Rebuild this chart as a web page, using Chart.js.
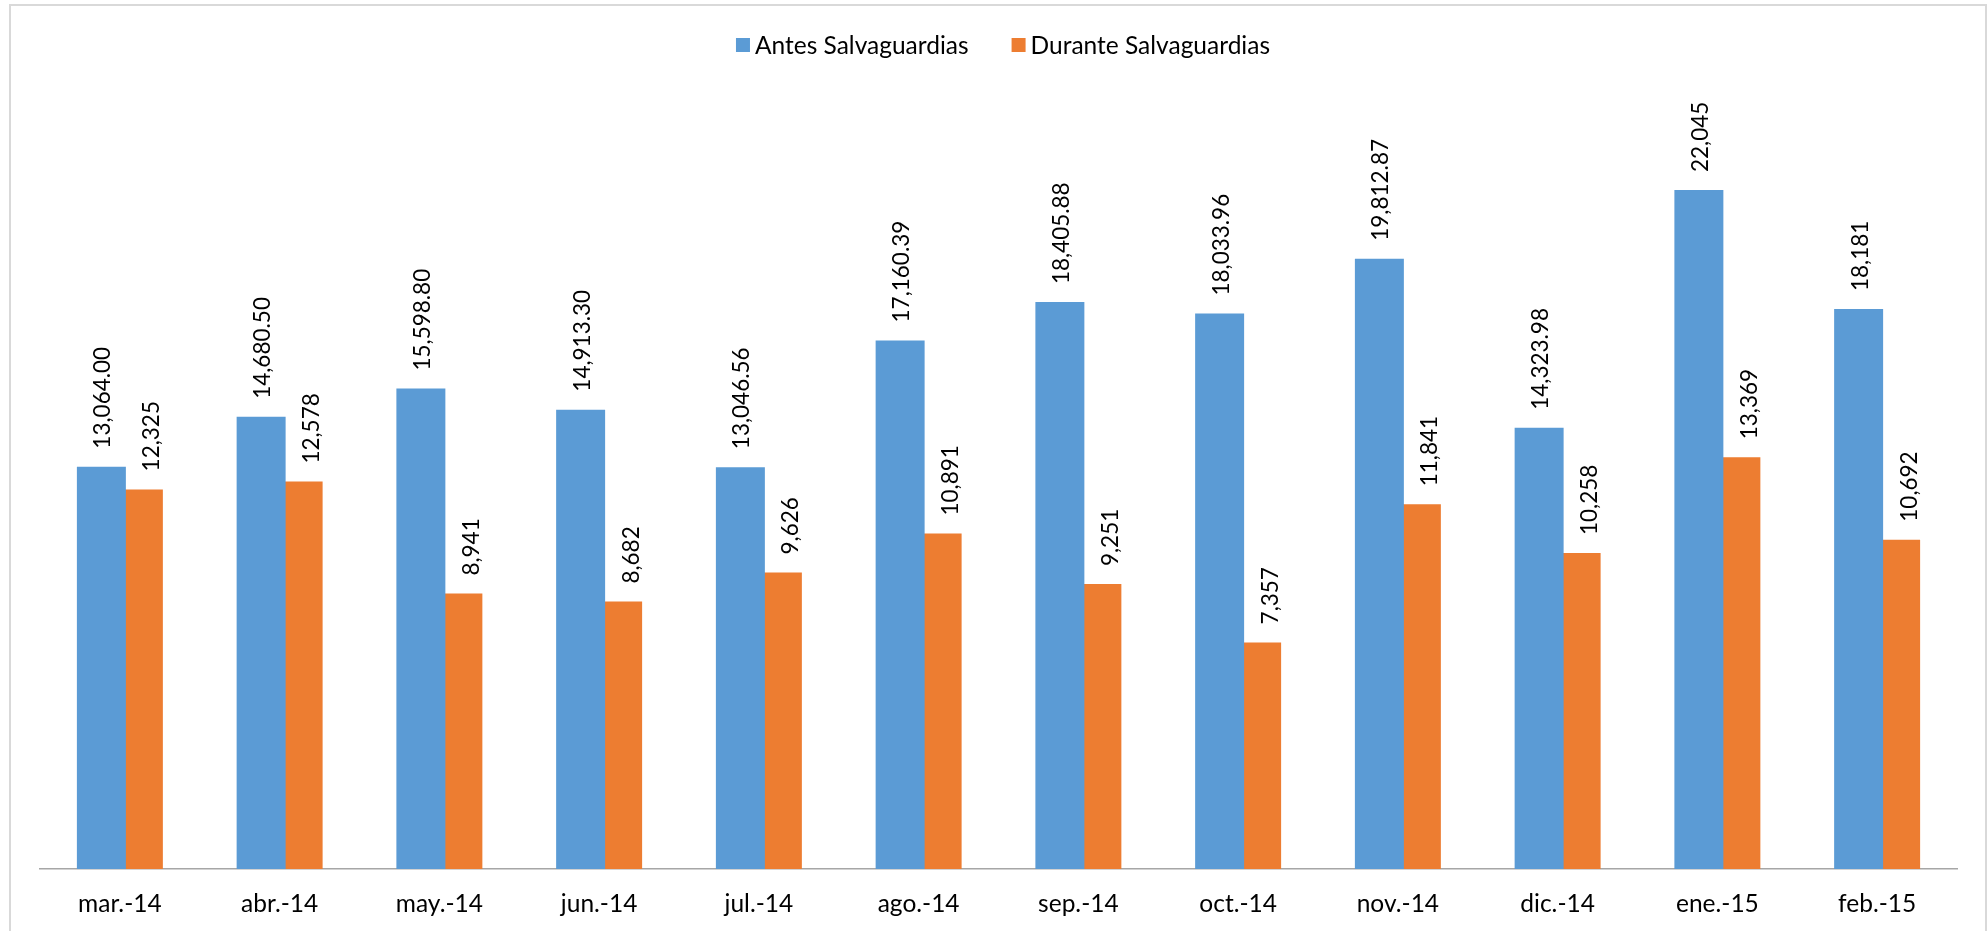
<!DOCTYPE html>
<html lang="es">
<head>
<meta charset="utf-8">
<title>Antes y durante salvaguardias</title>
<script src="https://cdn.jsdelivr.net/npm/chart.js@4.4.1/dist/chart.umd.min.js"></script>
<style>
  html, body { margin: 0; padding: 0; background: #ffffff; overflow: hidden; }
  #wrap { position: relative; width: 1988px; height: 931px; }
  #frame {
    position: absolute; left: 9px; top: 4px; width: 1978px; height: 1000px;
    box-sizing: border-box; border: 2px solid #d9d9d9; pointer-events: none;
  }
  canvas { position: absolute; left: 0; top: 0; }
</style>
</head>
<body>
<div id="wrap">
  <canvas id="chart" width="1988" height="931"></canvas>
  <div id="frame"></div>
</div>
<script>
// Months of the period
const categories = ['mar.-14', 'abr.-14', 'may.-14', 'jun.-14', 'jul.-14', 'ago.-14',
                    'sep.-14', 'oct.-14', 'nov.-14', 'dic.-14', 'ene.-15', 'feb.-15'];

// Series values
const antesSalvaguardias = [13064.00, 14680.50, 15598.80, 14913.30, 13046.56, 17160.39,
                            18405.88, 18033.96, 19812.87, 14323.98, 22045, 18181];
const duranteSalvaguardias = [12325, 12578, 8941, 8682, 9626, 10891,
                              9251, 7357, 11841, 10258, 13369, 10692];

// Decimal places shown in each value label
const antesDecimals = [2, 2, 2, 2, 2, 2, 2, 2, 2, 2, 0, 0];
const duranteDecimals = [0, 0, 0, 0, 0, 0, 0, 0, 0, 0, 0, 0];

const seriesNames = ['Antes Salvaguardias', 'Durante Salvaguardias'];
const seriesColors = ['#5B9BD5', '#ED7D31'];

const FONT = 'Lato, "Open Sans", "Liberation Sans", sans-serif';

function fmt(v, d) {
  return v.toLocaleString('en-US', { minimumFractionDigits: d, maximumFractionDigits: d });
}

// Vertical value labels above each bar
const valueLabels = {
  id: 'valueLabels',
  afterDatasetsDraw(chart) {
    const ctx = chart.ctx;
    const decimals = [antesDecimals, duranteDecimals];
    const shift = [9, 21];
    ctx.save();
    ctx.fillStyle = '#000000';
    ctx.font = '22.5px ' + FONT;
    ctx.textAlign = 'left';
    ctx.textBaseline = 'alphabetic';
    chart.data.datasets.forEach((ds, i) => {
      const meta = chart.getDatasetMeta(i);
      meta.data.forEach((bar, j) => {
        ctx.save();
        ctx.translate(bar.x + shift[i], bar.y - 18);
        ctx.rotate(-Math.PI / 2);
        ctx.fillText(fmt(ds.data[j], decimals[i][j]), 0, 0);
        ctx.restore();
      });
    });
    ctx.restore();
  }
};

// Legend row across the top
const topLegend = {
  id: 'topLegend',
  afterDraw(chart) {
    const ctx = chart.ctx;
    ctx.save();
    ctx.font = '24.5px ' + FONT;
    ctx.textBaseline = 'alphabetic';
    ctx.textAlign = 'left';
    const box = 14, gapText = 5, gapItem = 43;
    const widths = seriesNames.map(n => ctx.measureText(n).width);
    const total = widths.reduce((a, w) => a + box + gapText + w, 0) + gapItem * (seriesNames.length - 1);
    let x = 1003 - total / 2;
    seriesNames.forEach((name, i) => {
      ctx.fillStyle = seriesColors[i];
      ctx.fillRect(x, 38, box, box);
      ctx.fillStyle = '#000000';
      ctx.fillText(name, x + box + gapText, 54);
      x += box + gapText + widths[i] + gapItem;
    });
    ctx.restore();
  }
};

new Chart(document.getElementById('chart'), {
  type: 'bar',
  data: {
    labels: categories,
    datasets: [
      { label: seriesNames[0], data: antesSalvaguardias, backgroundColor: seriesColors[0],
        borderWidth: 0, categoryPercentage: 0.4632, barPercentage: 1.324 },
      { label: seriesNames[1], data: duranteSalvaguardias, backgroundColor: seriesColors[1],
        borderWidth: 0, categoryPercentage: 0.4632, barPercentage: 1.324 }
    ]
  },
  options: {
    responsive: false,
    animation: false,
    devicePixelRatio: 1,
    layout: { padding: { left: 40, right: 31, top: 99, bottom: 0 } },
    plugins: {
      legend: { display: false },
      tooltip: { enabled: false },
      title: { display: false }
    },
    scales: {
      x: {
        grid: { display: false, drawTicks: false },
        border: { display: true, color: '#a6a6a6', width: 1.5 },
        ticks: { color: '#000000', padding: 20, font: { family: FONT, size: 24.5 } },
        afterFit(scale) { scale.height = 62; }
      },
      y: {
        display: false,
        min: 0,
        max: 25000
      }
    }
  },
  plugins: [valueLabels, topLegend]
});
</script>
</body>
</html>
